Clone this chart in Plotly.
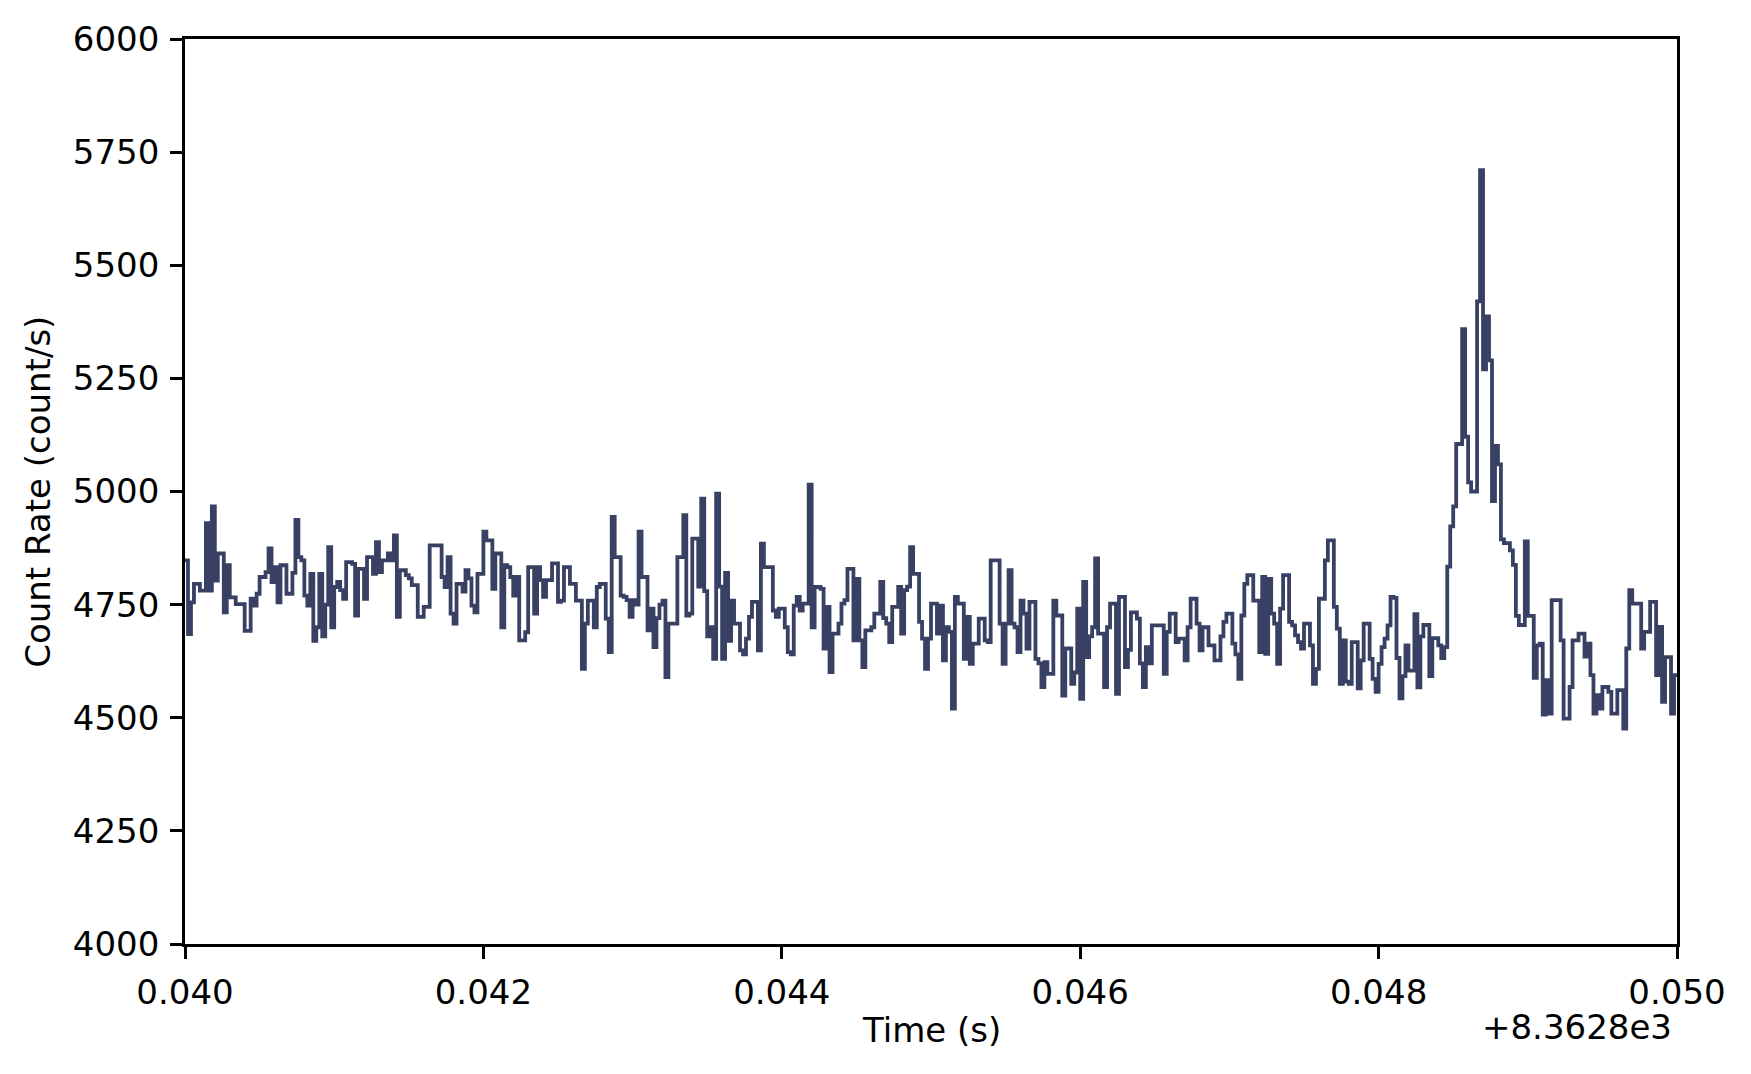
import plotly.graph_objects as go

# Count rate (count/s) per 20-microsecond bin, time offset +8362.8 s
rate_0400_0420 = [
    4848, 4685, 4755, 4796, 4796, 4781, 4781, 4930, 4781, 4967,
    4803, 4863, 4863, 4733, 4837, 4766, 4766, 4751, 4751, 4751,
    4692, 4692, 4763, 4748, 4774, 4811, 4811, 4822, 4874, 4800,
    4833, 4755, 4837, 4837, 4774, 4774, 4820, 4937, 4855, 4848,
    4770, 4748, 4818, 4670, 4700, 4818, 4680, 4750, 4877, 4700,
    4789, 4800, 4782, 4763, 4844, 4844, 4840, 4726, 4829, 4829,
    4763, 4855, 4855, 4818, 4888, 4822, 4848, 4848, 4863, 4848,
    4903, 4723, 4826, 4826, 4815, 4808, 4793, 4793, 4723, 4723,
    4745, 4745, 4881, 4881, 4881, 4881, 4811, 4789, 4855, 4730,
    4708, 4796, 4796, 4779, 4826, 4808, 4748, 4733, 4818, 4818,
]
rate_0420_0440 = [
    4911, 4892, 4892, 4785, 4863, 4863, 4700, 4837, 4833, 4811,
    4770, 4811, 4671, 4671, 4689, 4833, 4833, 4730, 4833, 4804,
    4767, 4804, 4804, 4841, 4841, 4756, 4759, 4833, 4833, 4796,
    4796, 4759, 4759, 4608, 4708, 4759, 4759, 4700, 4789, 4796,
    4796, 4719, 4645, 4944, 4855, 4855, 4770, 4767, 4760, 4723,
    4760, 4750, 4911, 4811, 4811, 4693, 4741, 4656, 4720, 4750,
    4759, 4590, 4708, 4708, 4708, 4855, 4855, 4948, 4726, 4730,
    4896, 4896, 4790, 4984, 4780, 4680, 4700, 4630, 4995, 4790,
    4630, 4820, 4670, 4759, 4708, 4708, 4649, 4640, 4675, 4723,
    4756, 4756, 4649, 4885, 4833, 4833, 4833, 4737, 4723, 4741,
]
rate_0440_0460 = [
    4741, 4700, 4645, 4640, 4748, 4767, 4737, 4752, 4752, 5015,
    4700, 4789, 4789, 4785, 4653, 4745, 4601, 4686, 4686, 4708,
    4752, 4760, 4829, 4829, 4671, 4807, 4671, 4612, 4693, 4693,
    4700, 4730, 4730, 4800, 4720, 4708, 4667, 4745, 4745, 4789,
    4686, 4782, 4790, 4877, 4818, 4818, 4712, 4675, 4608, 4675,
    4752, 4752, 4686, 4748, 4627, 4700, 4690, 4520, 4767, 4752,
    4752, 4630, 4723, 4619, 4664, 4664, 4719, 4719, 4671, 4667,
    4848, 4848, 4848, 4708, 4619, 4708, 4826, 4708, 4700, 4645,
    4759, 4730, 4653, 4756, 4756, 4630, 4620, 4568, 4623, 4597,
    4597, 4759, 4726, 4726, 4549, 4653, 4653, 4575, 4600, 4741,
]
rate_0460_0480 = [
    4542, 4800, 4634, 4680, 4700, 4852, 4686, 4686, 4568, 4700,
    4752, 4752, 4553, 4767, 4767, 4612, 4650, 4733, 4733, 4719,
    4620, 4568, 4656, 4620, 4704, 4704, 4704, 4704, 4597, 4690,
    4730, 4730, 4667, 4675, 4675, 4627, 4700, 4763, 4763, 4708,
    4649, 4700, 4700, 4660, 4660, 4627, 4627, 4680, 4712, 4730,
    4730, 4664, 4640, 4586, 4726, 4796, 4815, 4815, 4759, 4759,
    4645, 4811, 4641, 4807, 4730, 4708, 4619, 4741, 4815, 4815,
    4712, 4704, 4682, 4667, 4653, 4708, 4708, 4660, 4575, 4608,
    4763, 4763, 4848, 4892, 4892, 4745, 4697, 4575, 4671, 4580,
    4575, 4667, 4667, 4565, 4627, 4708, 4708, 4630, 4586, 4557,
]
rate_0480_0500 = [
    4619, 4656, 4675, 4704, 4767, 4765, 4632, 4543, 4592, 4660,
    4604, 4604, 4729, 4567, 4680, 4705, 4705, 4592, 4676, 4676,
    4660, 4632, 4656, 4834, 4923, 4967, 5105, 5105, 5359, 5121,
    5020, 5000, 5000, 5420, 5710, 5270, 5387, 5290, 4979, 5101,
    5060, 4894, 4886, 4886, 4870, 4838, 4725, 4705, 4705, 4890,
    4725, 4725, 4588, 4660, 4664, 4507, 4583, 4509, 4760, 4760,
    4760, 4671, 4498, 4498, 4568, 4671, 4671, 4686, 4686, 4635,
    4664, 4594, 4509, 4550, 4520, 4568, 4568, 4557, 4509, 4509,
    4561, 4561, 4476, 4653, 4782, 4752, 4752, 4752, 4653, 4690,
    4690, 4756, 4756, 4594, 4701, 4535, 4634, 4634, 4509, 4594,
]

t_start = 0.040
t_stop = 0.050
x_ticks = [0.040, 0.042, 0.044, 0.046, 0.048, 0.050]
y_ticks = [4000, 4250, 4500, 4750, 5000, 5250, 5500, 5750, 6000]
offset_label = "+8.3628e3"

rate = rate_0400_0420 + rate_0420_0440 + rate_0440_0460 + rate_0460_0480 + rate_0480_0500
n = len(rate)
bw = (t_stop - t_start) / n
xs = [t_start + i * bw for i in range(n)] + [t_stop]
ys = rate + [rate[-1]]

LINE = "#384163"
FONT = dict(family="DejaVu Sans", size=34, color="black")

fig = go.Figure()
fig.add_trace(go.Scatter(x=xs, y=ys, mode="lines", line=dict(shape="hv", color=LINE, width=3.8),
                         showlegend=False, hoverinfo="skip"))

axis_common = dict(showline=True, linecolor="black", linewidth=2.6, mirror=True,
                   ticks="outside", ticklen=12, tickwidth=2.6, tickcolor="black",
                   showgrid=False, zeroline=False, tickfont=FONT)

fig.update_xaxes(range=[t_start, t_stop], tickvals=x_ticks, ticktext=[f"{v:.3f}" for v in x_ticks],
                 ticklabelstandoff=4, **axis_common)
fig.update_yaxes(range=[y_ticks[0], y_ticks[-1]], tickvals=y_ticks, ticktext=[str(v) for v in y_ticks],
                 ticklabelstandoff=4, **axis_common)

fig.update_layout(
    width=1751, height=1074,
    margin=dict(l=185, r=74, t=39, b=130),
    paper_bgcolor="white", plot_bgcolor="white",
    font=FONT,
    annotations=[
        dict(text="Time (s)", xref="paper", yref="paper", x=0.5, y=-0.095,
             xanchor="center", yanchor="middle", showarrow=False, font=FONT),
        dict(text="Count Rate (count/s)", xref="paper", yref="paper", x=-0.099, y=0.5,
             xanchor="center", yanchor="middle", textangle=-90, showarrow=False, font=FONT),
        dict(text=offset_label, xref="paper", yref="paper", x=0.998, y=-0.092,
             xanchor="right", yanchor="middle", showarrow=False, font=FONT),
    ],
)

fig.write_html("out.html")
